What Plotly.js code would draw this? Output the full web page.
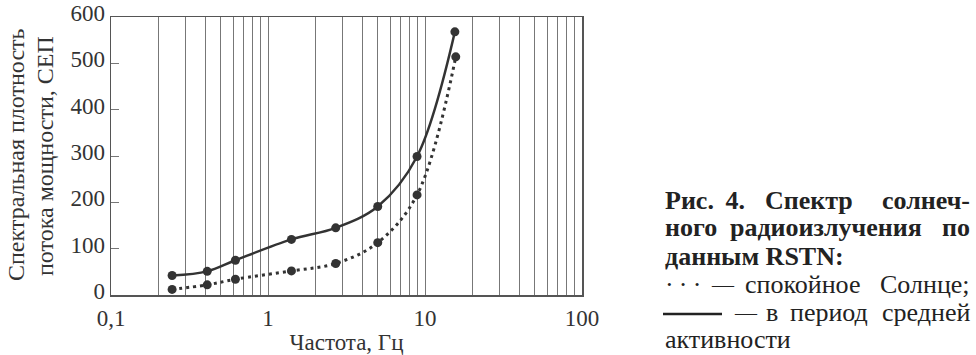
<!DOCTYPE html>
<html>
<head>
<meta charset="utf-8">
<script src="https://cdn.plot.ly/plotly-3.0.1.min.js"></script>
<style>
  html, body { margin: 0; padding: 0; background: #fff; }
  #chart { width: 976px; height: 355px; }
</style>
</head>
<body>
<div id="chart"></div>
<script>
// ---- data ----
const freqActive = [0.245, 0.41, 0.62, 1.41, 2.7, 5.0, 8.9, 15.5];
const fluxActive = [42, 51, 75, 120, 145, 191, 299, 568];
const freqQuiet  = [0.245, 0.41, 0.62, 1.41, 2.7, 5.0, 8.9, 15.7];
const fluxQuiet  = [12, 22, 34, 52, 68, 113, 216, 514];

const xTickVals = [0.1,0.2,0.3,0.4,0.5,0.6,0.7,0.8,0.9,
                   1,2,3,4,5,6,7,8,9,
                   10,20,30,40,50,60,70,80,90,100];
const xTickText = ['0,1','','','','','','','','',
                   '1','','','','','','','','',
                   '10','','','','','','','','',
                   '100'];
const yTickVals = [0,100,200,300,400,500,600];
const yTickText = ['0','100','200','300','400','500','600'];

const xTitle = 'Частота, Гц';
const yTitle1 = 'Спектральная плотность';
const yTitle2 = 'потока мощности, СЕП';

// caption words: [text, bold, line index, pixel x, right-anchored, font size]
const captionWords = [
  ['Рис.\u2009 4.', true, 0, 663, false, 26],
  ['Спектр', true, 0, 763, false, 26],
  ['солнеч-', true, 0, 972, true, 26],
  ['ного', true, 1, 663, false, 26],
  ['радиоизлучения', true, 1, 728, false, 26],
  ['по', true, 1, 972, true, 26],
  ['данным RSTN:', true, 2, 663, false, 26],
  ['·\u2009·\u2009·', false, 3, 663, false, 26],
  ['—', false, 3, 709, false, 22],
  ['спокойное', false, 3, 743, false, 26],
  ['Солнце;', false, 3, 972, true, 26],
  ['—', false, 4, 732, false, 22],
  ['в', false, 4, 764, false, 26],
  ['период', false, 4, 788, false, 26],
  ['средней', false, 4, 972, true, 26],
  ['активности', false, 5, 663, false, 26]
];

// ---- layout geometry (pixels) ----
const W = 976, H = 355;
const L = 111, R = 582, T = 17, B = 295;
const px = x => (x - L) / (R - L);
const py = y => (B - y) / (B - T);
const FONT = 'Liberation Serif';
const captionCenters = [200, 228, 256, 284, 312, 340];

const traces = [
  {
    x: freqActive, y: fluxActive, type: 'scatter', mode: 'lines+markers',
    line: {color: '#333', width: 2.5, shape: 'spline', smoothing: 1},
    marker: {color: '#333', size: 9},
    hoverinfo: 'skip', showlegend: false
  },
  {
    x: freqQuiet, y: fluxQuiet, type: 'scatter', mode: 'lines+markers',
    line: {color: '#333', width: 3, shape: 'spline', smoothing: 1, dash: '3px,4px'},
    marker: {color: '#333', size: 9},
    hoverinfo: 'skip', showlegend: false
  }
];

const annotations = [];
annotations.push({
  text: yTitle1, xref: 'paper', yref: 'paper', x: px(16), y: py(155),
  xanchor: 'center', yanchor: 'middle', textangle: -90, showarrow: false,
  font: {family: FONT, size: 24, color: '#333'}
});
annotations.push({
  text: yTitle2, xref: 'paper', yref: 'paper', x: px(45), y: py(156),
  xanchor: 'center', yanchor: 'middle', textangle: -90, showarrow: false,
  font: {family: FONT, size: 24, color: '#333'}
});
captionWords.forEach(w => {
  annotations.push({
    text: w[1] ? '<b>' + w[0] + '</b>' : w[0],
    xref: 'paper', yref: 'paper',
    x: px(w[3]), y: py(captionCenters[w[2]]),
    xanchor: w[4] ? 'right' : 'left', yanchor: 'middle',
    showarrow: false,
    font: {family: FONT, size: w[5], color: '#222'}
  });
});

const shapes = [
  {type: 'line', xref: 'paper', yref: 'paper',
   x0: px(663), x1: px(722), y0: py(captionCenters[4] + 2), y1: py(captionCenters[4] + 2),
   line: {color: '#222', width: 2.5}}
];

const layout = {
  width: W, height: H,
  margin: {l: L, r: W - R, t: T, b: H - B, pad: 0},
  paper_bgcolor: '#fff', plot_bgcolor: '#fff',
  font: {family: FONT, size: 23, color: '#333'},
  xaxis: {
    type: 'log', range: [-1, 2],
    tickmode: 'array', tickvals: xTickVals, ticktext: xTickText,
    ticks: '', showgrid: true, gridcolor: '#777', gridwidth: 1,
    showline: true, mirror: true, linecolor: '#555', linewidth: 1.5,
    zeroline: false, tickfont: {family: FONT, size: 23, color: '#333'},
    ticklabelstandoff: 2,
    title: {text: xTitle, font: {family: FONT, size: 23, color: '#333'}, standoff: 5}
  },
  yaxis: {
    range: [0, 600], tickmode: 'array', tickvals: yTickVals, ticktext: yTickText,
    ticks: 'inside', ticklen: 8, tickcolor: '#777', tickwidth: 1,
    showgrid: false, zeroline: false,
    showline: true, mirror: true, linecolor: '#555', linewidth: 1.5,
    tickfont: {family: FONT, size: 23, color: '#333'},
    ticklabelstandoff: 0, ticklabelshift: -4
  },
  annotations: annotations,
  shapes: shapes
};

Plotly.newPlot('chart', traces, layout, {staticPlot: true, displayModeBar: false});
</script>
</body>
</html>
